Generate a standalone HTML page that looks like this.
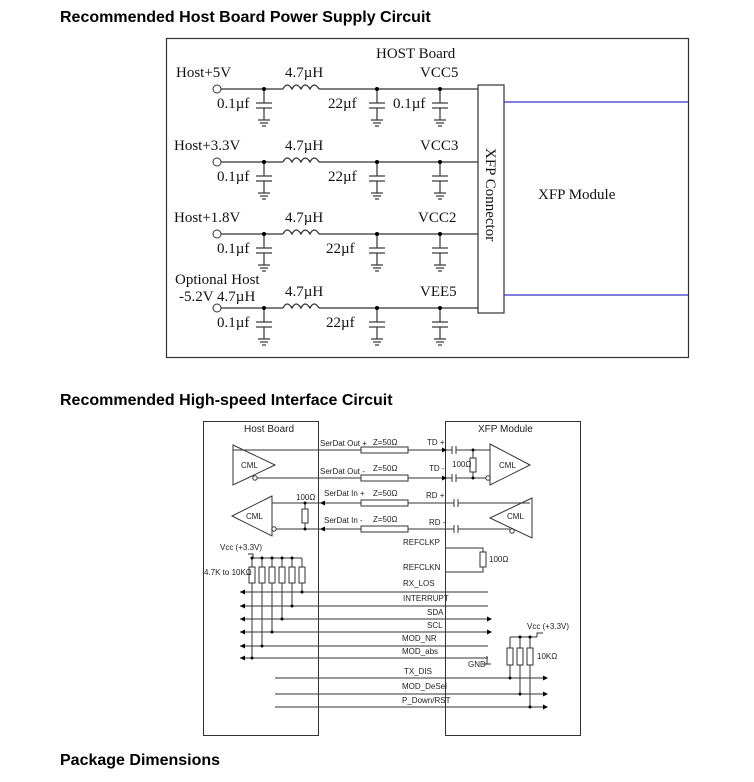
<!DOCTYPE html>
<html><head><meta charset="utf-8"><style>
body{margin:0;background:#fff;width:754px;height:782px;overflow:hidden}
svg{display:block}
.t{font-family:"Liberation Sans",Arial,sans-serif;font-weight:bold;font-size:16px;fill:#000}
.s{font-family:"Liberation Serif",serif;font-size:15px;fill:#111}
.a{font-family:"Liberation Sans",Arial,sans-serif;font-size:8px;fill:#222}
</style></head><body>
<svg width="754" height="782" viewBox="0 0 754 782">
<defs>
<g id="cap" stroke="#333" stroke-width="1.2" fill="none">
<line x1="0" y1="0" x2="0" y2="14"/><line x1="-8" y1="14" x2="8" y2="14"/><line x1="-8" y1="19" x2="8" y2="19"/><line x1="0" y1="19" x2="0" y2="31"/>
<line x1="-6" y1="31" x2="6" y2="31"/><line x1="-4" y1="34" x2="4" y2="34"/><line x1="-2" y1="37" x2="2" y2="37"/>
</g>
<g id="ind" stroke="#333" stroke-width="1.3" fill="none"><path d="M0 0 q4 -8 9 0 q4 -8 9 0 q4 -8 9 0 q4 -8 9 0"/></g>
<g id="ldot"><circle r="2" fill="#000"/></g>
<path id="al" d="M0 0 l5 -2.5 v5z" fill="#000"/>
<path id="ar" d="M0 0 l-5 -2.5 v5z" fill="#000"/>
</defs>
<text class="t" x="60" y="22">Recommended Host Board Power Supply Circuit</text>
<rect x="166.5" y="38.5" width="522" height="319" fill="none" stroke="#333" stroke-width="1.2"/>
<text class="s" x="376" y="58" font-size="18">HOST Board</text>
<rect x="478" y="85" width="26" height="228" fill="#fff" stroke="#333" stroke-width="1.2"/>
<line x1="504" y1="102" x2="688" y2="102" stroke="#33c" stroke-width="1.2"/>
<line x1="504" y1="295" x2="688" y2="295" stroke="#33c" stroke-width="1.2"/>
<text class="s" x="538" y="199" font-size="18">XFP Module</text>
<text class="s" transform="translate(486,148) rotate(90)" font-size="15">XFP Connector</text>
<g transform="translate(0,89)">
<circle cx="217" cy="0" r="4" fill="#fff" stroke="#333"/><line x1="221" y1="0" x2="283" y2="0" stroke="#333" stroke-width="1.3"/>
<use href="#ind" x="283" y="0"/><line x1="319" y1="0" x2="478" y2="0" stroke="#333" stroke-width="1.3"/>
<use href="#cap" x="264"/><use href="#cap" x="377"/><use href="#cap" x="440"/>
<use href="#ldot" x="264"/><use href="#ldot" x="377"/><use href="#ldot" x="440"/>
<text class="s" x="176" y="-12">Host+5V</text><text class="s" x="285" y="-12">4.7µH</text><text class="s" x="420" y="-12">VCC5</text>
<text class="s" x="217" y="19">0.1µf</text><text class="s" x="328" y="19">22µf</text><text class="s" x="393" y="19">0.1µf</text>
</g>
<g transform="translate(0,162)">
<circle cx="217" cy="0" r="4" fill="#fff" stroke="#333"/><line x1="221" y1="0" x2="283" y2="0" stroke="#333" stroke-width="1.3"/>
<use href="#ind" x="283" y="0"/><line x1="319" y1="0" x2="478" y2="0" stroke="#333" stroke-width="1.3"/>
<use href="#cap" x="264"/><use href="#cap" x="377"/><use href="#cap" x="440"/>
<use href="#ldot" x="264"/><use href="#ldot" x="377"/><use href="#ldot" x="440"/>
<text class="s" x="174" y="-12">Host+3.3V</text><text class="s" x="285" y="-12">4.7µH</text><text class="s" x="420" y="-12">VCC3</text>
<text class="s" x="217" y="19">0.1µf</text><text class="s" x="328" y="19">22µf</text>
</g>
<g transform="translate(0,234)">
<circle cx="217" cy="0" r="4" fill="#fff" stroke="#333"/><line x1="221" y1="0" x2="283" y2="0" stroke="#333" stroke-width="1.3"/>
<use href="#ind" x="283" y="0"/><line x1="319" y1="0" x2="478" y2="0" stroke="#333" stroke-width="1.3"/>
<use href="#cap" x="264"/><use href="#cap" x="377"/><use href="#cap" x="440"/>
<use href="#ldot" x="264"/><use href="#ldot" x="377"/><use href="#ldot" x="440"/>
<text class="s" x="174" y="-12">Host+1.8V</text><text class="s" x="285" y="-12">4.7µH</text><text class="s" x="418" y="-12">VCC2</text>
<text class="s" x="217" y="19">0.1µf</text><text class="s" x="326" y="19">22µf</text>
</g>
<g transform="translate(0,308)">
<circle cx="217" cy="0" r="4" fill="#fff" stroke="#333"/><line x1="221" y1="0" x2="283" y2="0" stroke="#333" stroke-width="1.3"/>
<use href="#ind" x="283" y="0"/><line x1="319" y1="0" x2="478" y2="0" stroke="#333" stroke-width="1.3"/>
<use href="#cap" x="264"/><use href="#cap" x="377"/><use href="#cap" x="440"/>
<use href="#ldot" x="264"/><use href="#ldot" x="377"/><use href="#ldot" x="440"/>
<text class="s" x="175" y="-24" font-size="14">Optional Host</text><text class="s" x="179" y="-7" font-size="14">-5.2V 4.7µH</text>
<text class="s" x="285" y="-12">4.7µH</text><text class="s" x="420" y="-12">VEE5</text>
<text class="s" x="217" y="19">0.1µf</text><text class="s" x="326" y="19">22µf</text>
</g>

<text class="t" x="60" y="405">Recommended High-speed Interface Circuit</text>
<g stroke="#333" stroke-width="1" fill="none">
<rect x="203.5" y="421.5" width="115" height="314"/>
<rect x="445.5" y="421.5" width="135" height="314"/>
<path d="M233 445 L275 465 L233 485 Z"/><circle cx="255" cy="478" r="2.2"/>
<line x1="233" y1="450" x2="361" y2="450"/><line x1="257" y1="478" x2="361" y2="478"/>
<line x1="408" y1="450" x2="452" y2="450"/><line x1="408" y1="478" x2="452" y2="478"/>
<rect x="361" y="447" width="47" height="6"/><rect x="361" y="475" width="47" height="6"/>
<line x1="452" y1="446" x2="452" y2="454"/><line x1="456" y1="446" x2="456" y2="454"/>
<line x1="452" y1="474" x2="452" y2="482"/><line x1="456" y1="474" x2="456" y2="482"/>
<line x1="456" y1="450" x2="490" y2="450"/><line x1="456" y1="478" x2="486" y2="478"/>
<line x1="473" y1="450" x2="473" y2="458"/><rect x="470" y="458" width="6" height="14"/><line x1="473" y1="472" x2="473" y2="478"/>
<path d="M490 444 L530 465 L490 485 Z"/><circle cx="488" cy="478" r="2.2"/>
<path d="M272 496 L232 516 L272 536 Z"/><circle cx="274" cy="529" r="2.2"/>
<line x1="272" y1="503" x2="361" y2="503"/><line x1="276" y1="529" x2="361" y2="529"/>
<rect x="361" y="500" width="47" height="6"/><rect x="361" y="526" width="47" height="6"/>
<line x1="408" y1="503" x2="454" y2="503"/><line x1="408" y1="529" x2="454" y2="529"/>
<line x1="454" y1="499" x2="454" y2="507"/><line x1="458" y1="499" x2="458" y2="507"/>
<line x1="454" y1="525" x2="454" y2="533"/><line x1="458" y1="525" x2="458" y2="533"/>
<line x1="458" y1="503" x2="530" y2="503"/><line x1="458" y1="529" x2="510" y2="529"/>
<path d="M532 498 L490 518 L532 538 Z"/><circle cx="512" cy="531" r="2.2"/>
<line x1="305" y1="503" x2="305" y2="509"/><rect x="302" y="509" width="6" height="14"/><line x1="305" y1="523" x2="305" y2="529"/>
<polyline points="445,548 483,548 483,552"/><rect x="480" y="552" width="6" height="15"/><polyline points="483,567 483,572 445,572"/>
<polyline points="248,554 253,554 253,558"/><line x1="253" y1="558" x2="302" y2="558"/>
<line x1="240" y1="592" x2="488" y2="592"/><line x1="240" y1="606" x2="488" y2="606"/>
<line x1="240" y1="619" x2="488" y2="619"/><line x1="240" y1="632" x2="488" y2="632"/>
<line x1="240" y1="646" x2="488" y2="646"/><line x1="240" y1="658" x2="488" y2="658"/>
<line x1="302" y1="558" x2="302" y2="592"/><line x1="292" y1="558" x2="292" y2="606"/>
<line x1="282" y1="558" x2="282" y2="619"/><line x1="272" y1="558" x2="272" y2="632"/>
<line x1="262" y1="558" x2="262" y2="646"/><line x1="252" y1="558" x2="252" y2="658"/>
<polyline points="487,656 487,664"/><line x1="482" y1="664" x2="491" y2="664"/>
<polyline points="543,633 537,633 537,637"/><line x1="510" y1="637" x2="537" y2="637"/>
<line x1="510" y1="637" x2="510" y2="678"/><line x1="520" y1="637" x2="520" y2="694"/><line x1="530" y1="637" x2="530" y2="707"/>
<line x1="275" y1="678" x2="545" y2="678"/><line x1="275" y1="694" x2="545" y2="694"/><line x1="275" y1="707" x2="545" y2="707"/>
</g>
<g fill="#fff" stroke="#333" stroke-width="1">
<rect x="249" y="567" width="6" height="16"/><rect x="259" y="567" width="6" height="16"/><rect x="269" y="567" width="6" height="16"/>
<rect x="279" y="567" width="6" height="16"/><rect x="289" y="567" width="6" height="16"/><rect x="299" y="567" width="6" height="16"/>
<rect x="507" y="648" width="6" height="17"/><rect x="517" y="648" width="6" height="17"/><rect x="527" y="648" width="6" height="17"/>
</g>
<g fill="#000">
<circle cx="473" cy="450" r="1.5"/><circle cx="473" cy="478" r="1.5"/><circle cx="305" cy="503" r="1.5"/><circle cx="305" cy="529" r="1.5"/>
<circle cx="252" cy="558" r="1.5"/><circle cx="262" cy="558" r="1.5"/><circle cx="272" cy="558" r="1.5"/><circle cx="282" cy="558" r="1.5"/><circle cx="292" cy="558" r="1.5"/>
<circle cx="302" cy="592" r="1.5"/><circle cx="292" cy="606" r="1.5"/><circle cx="282" cy="619" r="1.5"/><circle cx="272" cy="632" r="1.5"/><circle cx="262" cy="646" r="1.5"/><circle cx="252" cy="658" r="1.5"/>
<circle cx="520" cy="637" r="1.5"/><circle cx="530" cy="637" r="1.5"/><circle cx="510" cy="678" r="1.5"/><circle cx="520" cy="694" r="1.5"/><circle cx="530" cy="707" r="1.5"/>
</g>
<use href="#ar" x="447" y="450"/><use href="#ar" x="447" y="478"/>
<use href="#al" x="320" y="503"/><use href="#al" x="320" y="529"/>
<use href="#al" x="240" y="592"/><use href="#al" x="240" y="606"/><use href="#al" x="240" y="619"/><use href="#al" x="240" y="632"/><use href="#al" x="240" y="646"/><use href="#al" x="240" y="658"/>
<use href="#ar" x="492" y="619"/><use href="#ar" x="492" y="632"/>
<use href="#ar" x="548" y="678"/><use href="#ar" x="548" y="694"/><use href="#ar" x="548" y="707"/>
<g class="a">
<text x="244" y="432" font-size="10">Host Board</text><text x="478" y="432" font-size="10">XFP Module</text>
<text x="241" y="468">CML</text><text x="499" y="468">CML</text><text x="246" y="519">CML</text><text x="507" y="519">CML</text>
<text x="320" y="446">SerDat Out +</text><text x="320" y="474">SerDat Out -</text>
<text x="324" y="496">SerDat In +</text><text x="324" y="523">SerDat In -</text>
<text x="373" y="445">Z=50Ω</text><text x="373" y="471">Z=50Ω</text><text x="373" y="496">Z=50Ω</text><text x="373" y="522">Z=50Ω</text>
<text x="427" y="445">TD +</text><text x="429" y="471">TD -</text><text x="426" y="498">RD +</text><text x="429" y="525">RD -</text>
<text x="452" y="467">100Ω</text><text x="296" y="500">100Ω</text><text x="489" y="562">100Ω</text>
<text x="403" y="545">REFCLKP</text><text x="403" y="570">REFCLKN</text>
<text x="220" y="550">Vcc (+3.3V)</text><text x="204" y="575">4.7K to 10KΩ</text>
<text x="403" y="586">RX_LOS</text><text x="403" y="601">INTERRUPT</text><text x="427" y="615">SDA</text><text x="427" y="628">SCL</text>
<text x="402" y="641">MOD_NR</text><text x="402" y="654">MOD_abs</text><text x="468" y="667">GND</text>
<text x="527" y="629">Vcc (+3.3V)</text><text x="537" y="659">10KΩ</text>
<text x="404" y="674">TX_DIS</text><text x="402" y="689">MOD_DeSel</text><text x="402" y="703">P_Down/RST</text>
</g>
<text class="t" x="60" y="765">Package Dimensions</text>
</svg>
</body></html>
